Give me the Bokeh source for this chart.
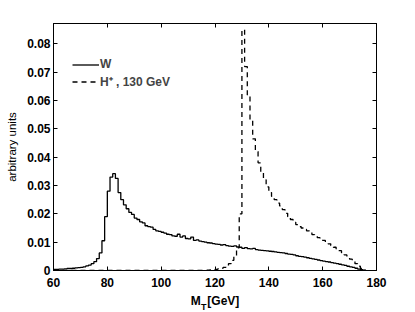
from bokeh.plotting import figure
from bokeh.models import (Range1d, LinearAxis, FixedTicker, Legend, LegendItem,
                          Label, ColumnDataSource)
from bokeh.embed import file_html
from bokeh.resources import INLINE

# ---- data: 1 GeV histogram bins, left edges 60..175 ----
bin_edges_start = 60
bin_width = 1

w_values = [
    0.0004, 0.0004, 0.0005, 0.0005, 0.0006, 0.0007, 0.0007, 0.0008, 0.0009, 0.0010,  # 60-69
    0.0011, 0.0013, 0.0016, 0.0019, 0.0024, 0.0031, 0.0042, 0.0062, 0.0105, 0.0190,  # 70-79
    0.0280, 0.0330, 0.0342, 0.0325, 0.0275, 0.0250, 0.0232, 0.0218, 0.0205, 0.0198,  # 80-89
    0.0185, 0.0180, 0.0172, 0.0168, 0.0158, 0.0155, 0.0153, 0.0145, 0.0140, 0.0138,  # 90-99
    0.0135, 0.0132, 0.0128, 0.0127, 0.0122, 0.0121, 0.0128, 0.0118, 0.0122, 0.0113,  # 100-109
    0.0112, 0.0118, 0.0106, 0.0108, 0.0104, 0.0102, 0.0100, 0.0098, 0.0097, 0.0095,  # 110-119
    0.0093, 0.0092, 0.0090, 0.0091, 0.0088, 0.0086, 0.0085, 0.0087, 0.0083, 0.0082,  # 120-129
    0.0078, 0.0081, 0.0077, 0.0076, 0.0078, 0.0074, 0.0072, 0.0071, 0.0070, 0.0069,  # 130-139
    0.0068, 0.0067, 0.0066, 0.0064, 0.0063, 0.0062, 0.0060, 0.0058, 0.0057, 0.0055,  # 140-149
    0.0052, 0.0050, 0.0049, 0.0047, 0.0045, 0.0043, 0.0041, 0.0039, 0.0037, 0.0035,  # 150-159
    0.0033, 0.0031, 0.0030, 0.0028, 0.0026, 0.0024, 0.0022, 0.0020, 0.0018, 0.0015,  # 160-169
    0.0013, 0.0011, 0.0008, 0.0005, 0.0003, 0.0001,                                  # 170-175
]

h_values = [
    0, 0, 0, 0, 0, 0, 0, 0, 0, 0,                                                      # 60-69
    0, 0, 0, 0, 0, 0, 0, 0, 0, 0,                                                      # 70-79
    0, 0, 0, 0, 0, 0, 0, 0, 0, 0,                                                      # 80-89
    0, 0, 0, 0, 0, 0, 0, 0, 0, 0,                                                      # 90-99
    0, 0, 0, 0, 0, 0, 0, 0, 0, 0,                                                      # 100-109
    0, 0, 0, 0, 0, 0, 0, 0.0001, 0.0002, 0.0003,                                        # 110-119
    0.0004, 0.0006, 0.0008, 0.0011, 0.0016, 0.0024, 0.0036, 0.0052, 0.0080, 0.0200,  # 120-129
    0.0850, 0.0720, 0.0620, 0.0530, 0.0465, 0.0420, 0.0380, 0.0345, 0.0320, 0.0295,  # 130-139
    0.0275, 0.0262, 0.0250, 0.0238, 0.0228, 0.0215, 0.0202, 0.0190, 0.0180, 0.0170,  # 140-149
    0.0162, 0.0155, 0.0150, 0.0145, 0.0140, 0.0133, 0.0127, 0.0122, 0.0116, 0.0111,  # 150-159
    0.0106, 0.0100, 0.0094, 0.0088, 0.0082, 0.0076, 0.0070, 0.0062, 0.0055, 0.0047,  # 160-169
    0.0040, 0.0032, 0.0024, 0.0015, 0.0007, 0.0,                                     # 170-175
]

x_ticks = [60, 80, 100, 120, 140, 160, 180]
y_ticks = [0, 0.01, 0.02, 0.03, 0.04, 0.05, 0.06, 0.07, 0.08]
y_tick_labels = ["0", "0.01", "0.02", "0.03", "0.04", "0.05", "0.06", "0.07", "0.08"]
series_names = ["W", "H\u207a , 130 GeV"]
x_label_main = "M\u00a0\u00a0[GeV]"
x_label_sub = "T"
y_label = "arbitrary units"

# step coordinates (mode="after"), closing at the last bin edge with 0
n = len(w_values)
edges = [bin_edges_start + i * bin_width for i in range(n + 1)]
w_y = w_values + [0.0]
h_y = h_values + [0.0]

FONT = "Liberation Sans"

p = figure(width=413, height=310, output_backend="svg", toolbar_location=None,
           x_range=Range1d(60, 180), y_range=Range1d(0, 0.0872),
           min_border_left=53, min_border_right=37, min_border_top=23,
           min_border_bottom=40)
p.xgrid.visible = False
p.ygrid.visible = False
p.outline_line_color = "black"
p.outline_line_width = 1
p.background_fill_color = "white"
p.border_fill_color = "white"

src_w = ColumnDataSource(dict(x=edges, y=w_y))
src_h = ColumnDataSource(dict(x=edges, y=h_y))
r_w = p.step("x", "y", source=src_w, mode="after", line_color="black", line_width=1.3)
r_h = p.step("x", "y", source=src_h, mode="after", line_color="black", line_width=1.3,
             line_dash="5 4")

def style_axis(ax, labels=True):
    ax.major_tick_in = 4
    ax.major_tick_out = 0
    ax.minor_tick_in = 0
    ax.minor_tick_out = 0
    ax.axis_line_color = "black"
    ax.major_tick_line_color = "black"
    ax.major_label_text_font = FONT
    ax.major_label_text_font_style = "bold"
    ax.major_label_text_font_size = "12px"
    ax.major_label_text_color = "black"
    if not labels:
        ax.major_label_text_font_size = "0px"
        ax.major_label_text_alpha = 0

xa = p.xaxis[0]
xa.ticker = FixedTicker(ticks=x_ticks)
style_axis(xa)
xa.major_label_standoff = 7
xa.axis_label = x_label_main
xa.axis_label_text_font = FONT
xa.axis_label_text_font_style = "bold"
xa.axis_label_text_font_size = "12px"
xa.axis_label_text_color = "black"
xa.axis_label_standoff = 4

ya = p.yaxis[0]
ya.ticker = FixedTicker(ticks=y_ticks)
ya.major_label_overrides = {t: l for t, l in zip(y_ticks, y_tick_labels)}
style_axis(ya)
ya.major_label_standoff = 3
ya.axis_label = y_label
ya.axis_label_text_font = FONT
ya.axis_label_text_font_style = "normal"
ya.axis_label_text_font_size = "11.5px"
ya.axis_label_text_color = "black"
ya.axis_label_standoff = 6

top = LinearAxis(ticker=FixedTicker(ticks=x_ticks))
style_axis(top, labels=False)
top.major_label_standoff = 0
p.add_layout(top, "above")
right = LinearAxis(ticker=FixedTicker(ticks=y_ticks))
style_axis(right, labels=False)
right.major_label_standoff = 0
p.add_layout(right, "right")

# subscript "T" of M_T, placed in the (spare) right panel so it is not clipped
p.add_layout(Label(x=-175.6, y=-36, x_units="screen", y_units="screen",
                   text=x_label_sub, text_font=FONT, text_font_style="bold",
                   text_font_size="9px", text_align="left",
                   text_baseline="alphabetic", text_color="black"), "right")

legend = Legend(items=[LegendItem(label=series_names[0], renderers=[r_w]),
                       LegendItem(label=series_names[1], renderers=[r_h])],
                location=(19, 180.5), margin=0, padding=0, spacing=-3,
                glyph_width=27, glyph_height=17, label_height=17,
                label_standoff=1, border_line_alpha=0, background_fill_alpha=0,
                label_text_font=FONT, label_text_font_style="bold",
                label_text_font_size="12px")
p.add_layout(legend)

open("out.html", "w").write(file_html(p, INLINE))
